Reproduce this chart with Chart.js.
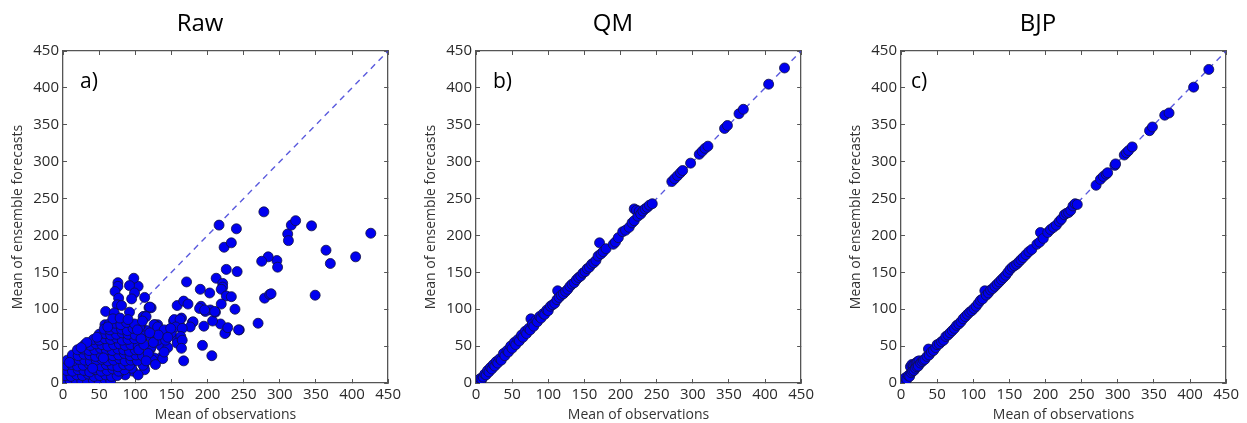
<!DOCTYPE html>
<html>
<head>
<meta charset="utf-8">
<script src="https://cdn.jsdelivr.net/npm/chart.js@4.4.1/dist/chart.umd.min.js"></script>
<style>
  body{margin:0;background:#fff;}
  .panel{position:absolute;top:0;width:408px;height:423px;}
</style>
</head>
<body>
<div class="panel" style="left:0px"><canvas id="rawChart"></canvas></div>
<div class="panel" style="left:413px"><canvas id="qmChart"></canvas></div>
<div class="panel" style="left:838px"><canvas id="bjpChart"></canvas></div>
<script>
const rawObs = [216,240,278,223,233,226,241,212,221,221,219,226,233,238,219,218,225,244,207,204,203,190,191,195,193,206,197,211,171,167,164,158,167,173,179,164,158,153,146,150,138,136,135,126,121,131,127,116,119,122,113,104,98,92,99,95,112,108,113,112,97,85,76,76,72,77,75,81,59,71,92,68,58,311,312,316,322,344,364,370,349,405,426,296,297,284,275,279,286,270,288,189,196,210,224,228,243,154,162,180,156,176,165,163,120,111,115,126,131,106,121,140,149,131,122,145,142,158,165,164,138,124,113,104,95,111,100,86,77,
  2,10,18,26,34,42,50,58,66,
  3,11,19,27,35,43,51,59,67,75,
  5,13,21,29,37,45,53,61,69,77,85,
  4,12,20,28,36,44,52,60,68,76,84,92,
  6,14,22,30,38,46,54,62,70,78,86,94,103,
  13,21,29,37,45,53,61,69,77,85,93,101,110,
  20,28,36,44,52,60,68,76,84,92,100,
  30,38,46,54,62,70,78,86,94,104,
  42,50,58,66,74,82,90,99,
  50,58,66,74,82,90,100,
  57,65,73,81,89,97,
  64,72,80,88,99,
  69,79,90,
  105,112,118,125,132,140,108,115,128,145,120,103,110,
  33,47,62,9,25,41,56];
const rawFc = [214,209,232,184,190,154,151,142,135,130,127,118,117,100,107,80,68,72,84,99,122,127,104,77,51,37,97,96,137,30,88,105,111,107,82,75,59,84,72,68,60,50,34,34,46,79,79,71,102,102,116,131,142,132,122,114,90,79,64,23,16,20,136,131,124,115,106,105,97,95,96,82,79,202,193,214,220,213,180,162,119,171,203,166,157,171,165,115,120,81,121,101,99,97,67,75,72,86,86,83,76,76,74,63,103,90,90,79,76,76,63,72,74,58,49,48,58,54,58,47,33,31,18,11,20,24,31,11,13,
  3,2,4,3,2,4,3,5,3,
  10,9,11,10,12,9,10,11,9,10,
  17,16,18,17,15,18,16,17,19,16,18,
  24,25,23,24,26,24,23,25,24,22,25,24,
  31,30,32,31,29,31,32,30,31,33,30,31,30,
  38,37,39,38,36,38,39,37,38,40,37,38,37,
  45,46,44,45,47,45,44,46,45,43,45,
  52,51,53,52,50,52,53,51,52,50,
  59,58,60,59,61,58,59,60,
  66,67,65,66,68,66,65,
  73,72,74,73,71,74,
  80,81,79,82,80,
  87,88,86,
  45,52,40,55,65,42,60,30,25,62,68,72,84,
  55,62,76,28,48,20,34];

const qmObs = [2,4,6,8,10,12,14,16,18,20,22,24,26,28,30,33,35,38,40,43,45,48,50,53,55,58,60,63,65,68,70,73,75,76,78,80,83,85,88,90,93,95,98,100,103,106,109,112,113,115,118,121,124,127,130,133,136,139,142,145,148,151,154,157,160,163,166,169,171,173,176,180,190,193,197,203,207,212,216,219,219,222,224,226,228,231,234,237,240,244,271,275,279,283,286,297,309,313,317,321,344,348,364,370,405,427];
const qmFc = [3,1,6,5,8,12,11,17,15,21,19,25,23,29,27,33,31,40,37,44,42,50,47,55,52,59,57,65,62,70,67,74,72,87,80,77,85,83,90,88,94,93,99,98,104,106,108,113,125,116,119,121,124,127,131,134,136,140,143,145,149,151,155,157,161,163,166,172,190,175,178,182,188,191,197,205,207,211,217,220,236,234,226,233,229,233,236,238,241,243,273,277,281,285,288,298,310,314,318,321,345,349,365,371,405,427];

const bjpObs = [2,4,6,8,10,12,13,15,17,19,21,23,25,14,16,18,20,22,24,27,29,31,33,36,38,39,42,45,48,50,53,56,59,62,65,68,71,74,77,80,83,86,89,92,95,98,101,104,107,110,113,116,118,121,124,127,130,133,136,139,142,145,148,151,154,157,160,163,166,169,173,177,181,188,192,193,197,203,207,211,215,219,222,226,229,232,235,238,241,244,270,276,280,284,286,296,297,309,312,315,320,344,348,365,371,405,426];
const bjpFc = [4,2,7,5,10,9,22,25,24,26,27,29,30,14,16,17,20,22,23,27,29,31,32,36,46,38,42,44,48,52,53,56,58,63,65,68,71,74,78,80,83,87,90,93,96,98,101,104,108,112,114,125,119,122,126,128,131,134,137,140,143,146,150,154,157,159,161,164,167,170,174,178,181,188,191,204,196,204,208,211,214,219,222,228,230,231,234,240,243,242,268,276,280,283,285,295,297,309,312,315,320,342,347,363,366,401,425];

// 1:1 reference line
const diagX = [0, 450];
const diagY = [0, 450];

Chart.defaults.font.family = "'Open Sans', 'DejaVu Sans', sans-serif";
Chart.defaults.color = "#222";

const axisCol = "#555";
function frameAxis(pos, extra){
  return Object.assign({
    type:"linear", position:pos, min:0, max:450,
    ticks:{stepSize:50, display:false},
    grid:{drawOnChartArea:false, tickLength:-4, color:axisCol, lineWidth:1},
    border:{color:axisCol, width:1.3}
  }, extra);
}

function makePanel(id, title, letter, letterOff, xs, ys){
  const pts = xs.map((x,i)=>({x, y:ys[i]}));
  const diag = diagX.map((x,i)=>({x, y:diagY[i]}));
  new Chart(document.getElementById(id), {
    type:"scatter",
    data:{datasets:[
      {type:"line", data:diag, borderColor:"rgba(60,60,215,.85)", borderWidth:1.4,
       borderDash:[6,5], pointRadius:0, fill:false, order:2, xAxisID:"x", yAxisID:"y"},
      {data:pts, backgroundColor:"#0000f0", borderColor:"#101040", borderWidth:0.8,
       pointRadius:5, order:1, clip:0, xAxisID:"x", yAxisID:"y"}
    ]},
    options:{
      responsive:true, maintainAspectRatio:false, animation:false, events:[],
      layout:{padding:{left:4, right:12, top:0, bottom:0}},
      plugins:{
        legend:{display:false}, tooltip:{enabled:false},
        title:{display:true, text:title, color:"#000", font:{size:24, weight:"normal"}, padding:{top:10, bottom:12.2}}
      },
      scales:{
        x:frameAxis("bottom", {
          ticks:{stepSize:50, padding:7, color:"#2a2a2a", font:{size:15}},
          title:{display:true, text:"Mean of observations", color:"#333", font:{size:14}, padding:{top:0, bottom:0}},
          afterFit(s){ s.height = 40; }
        }),
        y:frameAxis("left", {
          ticks:{stepSize:50, padding:8, color:"#2a2a2a", font:{size:15}},
          title:{display:true, text:"Mean of ensemble forecasts", color:"#333", font:{size:14}, padding:{top:6, bottom:0}},
          afterFit(s){ s.width = 59; }
        }),
        x2:frameAxis("top", {afterFit(s){ s.height = 0; }}),
        y2:frameAxis("right", {afterFit(s){ s.width = 0; }})
      }
    },
    plugins:[{
      id:"panelLetter",
      afterDraw(chart){
        const {ctx, chartArea} = chart;
        ctx.save();
        ctx.font = "21px 'Open Sans'";
        ctx.fillStyle = "#000";
        ctx.textBaseline = "middle";
        ctx.fillText(letter, chartArea.left + letterOff, chartArea.top + 31);
        ctx.restore();
      }
    }]
  });
}

makePanel("rawChart", "Raw", "a)", 17, rawObs, rawFc);
makePanel("qmChart", "QM", "b)", 17, qmObs, qmFc);
makePanel("bjpChart", "BJP", "c)", 10, bjpObs, bjpFc);
</script>
</body>
</html>
